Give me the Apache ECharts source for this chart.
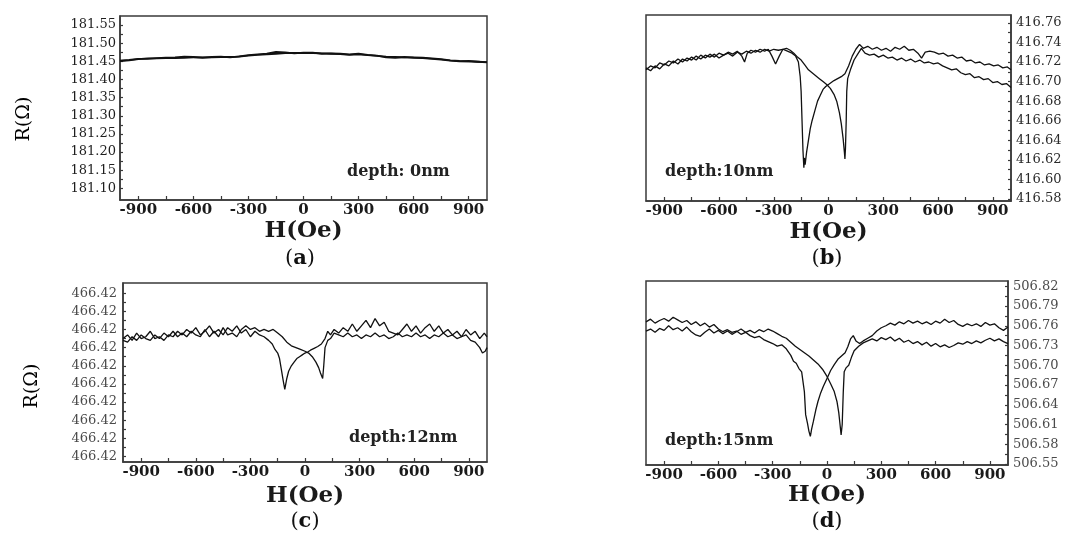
<!DOCTYPE html>
<html>
<head>
<meta charset="utf-8">
<script src="https://cdn.jsdelivr.net/npm/echarts/dist/echarts.min.js"></script>
<style>
html,body{margin:0;padding:0;background:#fff;}
#chart{width:1084px;height:538px;}
</style>
</head>
<body>
<div id="chart"></div>
<script>
// ---------- tick labels ----------
const X_MAJOR = [-900, -600, -300, 0, 300, 600, 900];
const X_MINOR = [-750, -450, -150, 150, 450, 750];
const Y_TICKS_A = [181.10, 181.15, 181.20, 181.25, 181.30, 181.35, 181.40, 181.45, 181.50, 181.55];
const Y_TICKS_B = [416.58, 416.60, 416.62, 416.64, 416.66, 416.68, 416.70, 416.72, 416.74, 416.76];
const Y_TICKS_C = [466.4180, 466.4185, 466.4190, 466.4195, 466.4200, 466.4205, 466.4210, 466.4215, 466.4220, 466.4225];
const Y_TICKS_D = [506.55, 506.58, 506.61, 506.64, 506.67, 506.70, 506.73, 506.76, 506.79, 506.82];

const PANEL_TAGS = ['a', 'b', 'c', 'd'];
const DEPTH_TEXT = ['depth: 0nm', 'depth:10nm', 'depth:12nm', 'depth:15nm'];

// ---------- (a) depth 0 nm ----------
const H_A = [-1000,-950,-900,-850,-800,-750,-700,-650,-600,-550,-500,-450,-400,-350,-300,-250,-200,-150,-100,-50,0,50,100,150,200,250,300,350,400,450,500,550,600,650,700,750,800,850,900,950,1000];
const R_A1 = [181.451,181.453,181.456,181.458,181.458,181.459,181.459,181.460,181.461,181.461,181.461,181.462,181.462,181.463,181.466,181.468,181.469,181.471,181.473,181.473,181.473,181.473,181.472,181.471,181.470,181.468,181.469,181.467,181.465,181.463,181.462,181.461,181.461,181.460,181.458,181.456,181.453,181.451,181.450,181.449,181.448];
const R_A2 = [181.452,181.454,181.457,181.457,181.459,181.460,181.461,181.463,181.462,181.460,181.462,181.463,181.461,181.464,181.467,181.469,181.471,181.476,181.475,181.472,181.474,181.474,181.471,181.472,181.471,181.469,181.471,181.468,181.466,181.461,181.460,181.462,181.460,181.459,181.457,181.455,181.452,181.450,181.451,181.449,181.447];

// ---------- (b) depth 10 nm ----------
const H_B1 = [-1000,-975,-950,-925,-900,-875,-850,-825,-800,-775,-750,-725,-700,-675,-650,-625,-600,-575,-550,-525,-500,-475,-450,-425,-400,-375,-350,-325,-300,-275,-250,-225,-200,-180,-165,-155,-150,-145,-140,-135,-132,-128,-120,-110,-100,-90,-75,-60,-45,-30,-15,0,15,30,50,70,90,110,130,150,170,190,215,240,265,290,315,340,365,390,415,440,465,490,510,530,555,580,605,630,655,680,705,730,755,780,805,830,855,880,905,930,955,980,1000];
const R_B1 = [416.712,416.716,416.714,416.719,416.717,416.721,416.719,416.723,416.720,416.724,416.722,416.726,416.723,416.727,416.725,416.728,416.724,416.727,416.729,416.726,416.730,416.728,416.731,416.729,416.732,416.730,416.733,416.731,416.733,416.732,416.733,416.731,416.729,416.726,416.720,416.705,416.690,416.660,416.630,416.612,416.622,416.615,416.628,416.640,416.652,416.660,416.670,416.680,416.686,416.692,416.695,416.697,416.699,416.701,416.703,416.705,416.708,416.716,416.726,416.733,416.738,416.734,416.736,416.733,416.735,416.732,416.734,416.731,416.735,416.733,416.736,416.732,416.733,416.729,416.724,416.730,416.731,416.730,416.728,416.729,416.726,416.727,416.724,416.725,416.721,416.722,416.719,416.720,416.717,416.718,416.716,416.717,416.714,416.715,416.712];
const H_B2 = [-1000,-975,-950,-925,-900,-875,-850,-825,-800,-775,-750,-725,-700,-675,-650,-625,-600,-575,-550,-525,-500,-475,-460,-445,-425,-400,-375,-350,-330,-310,-290,-270,-250,-230,-210,-190,-170,-150,-130,-110,-90,-70,-50,-30,-10,10,30,45,60,70,80,87,90,93,97,100,105,120,140,160,180,200,225,250,275,300,325,350,375,400,425,450,475,500,525,550,575,600,625,650,675,700,725,750,775,800,825,850,875,900,925,950,975,1000];
const R_B2 = [416.714,416.711,416.716,416.713,416.718,416.716,416.721,416.718,416.723,416.721,416.725,416.722,416.727,416.724,416.728,416.725,416.729,416.727,416.730,416.728,416.731,416.726,416.720,416.729,416.732,416.730,416.733,416.731,416.733,416.726,416.718,416.726,416.733,416.734,416.732,416.729,416.725,416.722,416.717,416.712,416.709,416.706,416.703,416.700,416.697,416.693,416.687,416.680,416.668,416.657,416.642,416.628,416.621,416.632,416.660,416.690,416.703,416.712,416.722,416.728,416.734,416.729,416.727,416.728,416.725,416.727,416.724,416.725,416.722,416.724,416.721,416.723,416.720,416.722,416.719,416.720,416.718,416.719,416.716,416.714,416.712,416.713,416.709,416.707,416.708,416.704,416.705,416.702,416.703,416.699,416.700,416.697,416.698,416.694];

// ---------- (c) depth 12 nm ----------
const H_C1 = [-1000,-975,-950,-925,-900,-875,-850,-825,-800,-775,-750,-725,-700,-675,-650,-625,-600,-575,-550,-525,-500,-475,-450,-425,-400,-375,-350,-325,-300,-275,-250,-225,-200,-180,-165,-150,-140,-130,-120,-111,-100,-90,-75,-60,-45,-30,-15,0,15,30,50,70,90,110,125,140,160,185,210,235,260,285,310,335,360,385,410,435,460,485,510,535,560,585,610,635,660,685,710,735,760,785,810,835,860,885,910,935,960,985,1000];
const R_C1 = [466.42125,466.42135,466.4212,466.4214,466.42125,466.4213,466.42145,466.42125,466.4213,466.4212,
466.42135,466.4213,466.42145,466.42135,466.4215,466.4214,466.42155,466.42135,466.42145,466.4216,
466.4214,466.4215,466.42135,466.42155,466.42145,466.4216,466.4214,466.4215,466.4213,466.42145,
466.42135,466.4213,466.4212,
466.4211,466.42095,466.42085,466.4207,466.4204,466.4201,466.41985,466.42015,466.42035,466.4205,466.4206,466.4207,466.42075,466.4208,466.42085,466.42088,466.42093,466.42098,466.42103,466.4211,466.42125,466.42145,466.42135,
466.4215,466.4214,466.42155,466.42145,466.42165,466.42145,466.4216,466.42175,466.42155,466.4218,
466.4216,466.4217,466.42145,466.4214,466.42135,466.4215,466.42165,466.42145,466.4216,466.4214,
466.42155,466.42165,466.42145,466.4216,466.4214,466.4215,466.42135,466.42145,466.4213,466.4215,
466.42135,466.42145,466.42125,466.4214,466.4213];
const H_C2 = [-1000,-975,-950,-925,-900,-875,-850,-825,-800,-775,-750,-725,-700,-675,-650,-625,-600,-575,-550,-525,-500,-475,-450,-425,-400,-375,-350,-325,-300,-275,-250,-225,-200,-175,-150,-125,-100,-75,-50,-25,0,20,40,60,75,85,97,103,110,125,140,160,185,210,235,260,285,310,335,360,385,410,435,460,485,510,535,560,585,610,635,660,685,710,735,760,785,810,835,860,885,910,935,960,975,990,1000];
const R_C2 = [466.4212,466.42115,466.4213,466.4212,466.42135,466.42125,466.4212,466.42135,466.42125,466.4214,
466.4213,466.42145,466.4213,466.4214,466.4213,466.42145,466.42135,466.4213,466.4215,466.4213,
466.42145,466.4213,466.42155,466.42135,466.4214,466.4213,466.4215,466.4216,466.4215,466.42155,
466.42145,466.4215,466.42145,466.4215,466.4214,466.4213,466.42115,
466.42105,466.421,466.42095,466.4209,466.42085,466.42075,466.4206,466.42045,466.4203,466.42015,466.4205,466.421,466.4212,466.42125,
466.4214,466.42135,466.4213,466.4214,466.4213,466.42135,466.42125,466.42135,466.4213,466.4214,
466.4213,466.42135,466.42125,466.4213,466.4214,466.4213,466.42135,466.4213,466.4214,466.4213,
466.42135,466.42125,466.42135,466.4213,466.4214,466.4213,466.42135,466.42125,466.4213,466.42135,
466.4212,
466.42115,466.421,466.42085,466.4209,466.421];

// ---------- (d) depth 15 nm ----------
const H_D1 = [-1000,-975,-950,-925,-900,-875,-850,-825,-800,-775,-750,-725,-700,-675,-650,-625,-600,-575,-550,-525,-500,-475,-450,-425,-400,-375,-350,-325,-300,-275,-250,-225,-200,-185,-170,-155,-140,-130,-125,-118,-108,-100,-92,-85,-75,-62,-50,-35,-20,0,20,40,60,80,100,115,130,145,160,180,200,225,250,275,300,325,350,375,400,425,450,475,500,525,550,575,600,625,650,675,700,725,750,775,800,825,850,875,900,925,950,975,1000];
const R_D1 = [506.766,506.770,506.764,506.768,506.771,506.767,506.773,506.769,506.765,506.768,
506.762,506.766,506.760,506.764,506.758,506.762,506.755,506.751,506.754,506.750,
506.752,506.747,506.750,506.745,506.742,506.744,506.739,506.736,506.733,506.729,
506.731,506.725,
506.715,506.706,506.703,506.695,506.690,506.688,506.660,506.625,506.612,506.600,
506.592,506.603,506.615,506.632,506.645,506.658,506.668,506.680,506.692,506.701,
506.709,506.714,506.719,506.728,506.740,506.745,506.737,506.733,506.737,
506.741,506.745,506.752,506.757,506.760,506.764,506.761,506.766,506.763,506.768,
506.764,506.767,506.763,506.766,506.762,506.767,506.764,506.770,506.765,506.768,
506.762,506.759,506.763,506.760,506.763,506.759,506.765,506.761,506.763,506.757,
506.753,506.758];
const H_D2 = [-1000,-975,-950,-925,-900,-875,-850,-825,-800,-775,-750,-725,-700,-675,-650,-625,-600,-575,-550,-525,-500,-475,-450,-425,-400,-375,-350,-325,-300,-275,-250,-225,-200,-175,-150,-125,-100,-75,-50,-25,0,20,40,55,65,72,78,84,90,95,105,120,135,150,175,200,225,250,275,300,325,350,375,400,425,450,475,500,525,550,575,600,625,650,675,700,725,750,775,800,825,850,875,900,925,950,975,1000];
const R_D2 = [506.752,506.755,506.750,506.756,506.753,506.760,506.754,506.757,506.752,506.758,
506.751,506.746,506.744,506.750,506.755,506.749,506.753,506.748,506.752,506.747,
506.751,506.755,506.750,506.753,506.749,506.754,506.751,506.755,506.752,506.748,
506.744,506.741,506.735,506.729,506.724,506.719,506.714,506.708,506.702,506.694,
506.683,
506.672,506.660,506.645,506.628,506.610,506.594,506.610,506.660,506.690,506.696,506.700,506.712,506.722,506.729,
506.734,506.737,506.740,506.737,506.742,506.739,506.743,506.737,506.741,506.735,
506.738,506.733,506.736,506.731,506.735,506.729,506.733,506.728,506.731,506.727,
506.730,506.734,506.732,506.736,506.733,506.737,506.734,506.738,506.741,506.737,
506.740,506.736,506.733];

// ---------- layout / style ----------
const SERIF = '"DejaVu Serif", "Liberation Serif", serif';
const INK = '#1a1a1a';
const FRAME = '#3a3a3a';

const panels = [
  { grid: {left: 120, top: 16, width: 367, height: 184}, ymin: 181.068, ymax: 181.575, ticks: Y_TICKS_A,
    pos: 'left', labelColor: '#1e1e1e', labelMargin: 4, nameGap: 20,
    curves: [[H_A, R_A1], [H_A, R_A2]] },
  { grid: {left: 646, top: 15, width: 365, height: 186}, ymin: 416.578, ymax: 416.768, ticks: Y_TICKS_B,
    pos: 'right', labelColor: '#2a2a2a', labelMargin: 5, nameGap: 20,
    curves: [[H_B1, R_B1], [H_B2, R_B2]] },
  { grid: {left: 123, top: 283, width: 364, height: 179}, ymin: 466.41785, ymax: 466.42278, ticks: Y_TICKS_C,
    pos: 'left', labelColor: '#4a4a4a', labelMargin: 6, nameGap: 23,
    curves: [[H_C1, R_C1], [H_C2, R_C2]] },
  { grid: {left: 646, top: 281, width: 362, height: 184}, ymin: 506.5485, ymax: 506.828, ticks: Y_TICKS_D,
    pos: 'right', labelColor: '#4a4a4a', labelMargin: 5, nameGap: 19,
    curves: [[H_D1, R_D1], [H_D2, R_D2]] }
];

function midpoints(arr) {
  const out = [];
  for (let i = 0; i < arr.length - 1; i++) out.push((arr[i] + arr[i + 1]) / 2);
  return out;
}

const grids = panels.map(p => Object.assign({
  show: true, borderColor: FRAME, borderWidth: 1.5, backgroundColor: 'transparent', containLabel: false
}, p.grid));

const xAxes = panels.map((p, i) => ({
  gridIndex: i, type: 'value', min: -1000, max: 1000,
  axisLine: {show: true, onZero: false, lineStyle: {color: FRAME, width: 1.5}},
  axisTick: {show: true, inside: true, length: 4, customValues: X_MAJOR.concat(X_MINOR), lineStyle: {color: FRAME, width: 1.2}},
  axisLabel: {customValues: X_MAJOR, fontFamily: SERIF, fontSize: 15, fontWeight: 'bold', color: INK, margin: 3},
  splitLine: {show: false},
  name: 'H(Oe)', nameLocation: 'middle', nameGap: p.nameGap,
  nameTextStyle: {fontFamily: SERIF, fontSize: 23, fontWeight: 'bold', color: INK}
}));

const yAxes = panels.map((p, i) => ({
  gridIndex: i, type: 'value', min: p.ymin, max: p.ymax, position: p.pos,
  axisLine: {show: true, onZero: false, lineStyle: {color: FRAME, width: 1.5}},
  axisTick: {show: true, inside: true, length: 3, customValues: p.ticks.concat(midpoints(p.ticks)), lineStyle: {color: FRAME, width: 1.2}},
  axisLabel: {customValues: p.ticks, fontFamily: SERIF, fontSize: 13, color: p.labelColor, margin: p.labelMargin,
    formatter: v => Number(v).toFixed(2)},
  splitLine: {show: false}
}));

const series = [];
panels.forEach((p, i) => {
  p.curves.forEach(([H, R]) => {
    series.push({
      type: 'line', xAxisIndex: i, yAxisIndex: i,
      data: H.map((h, k) => [h, R[k]]),
      showSymbol: false, symbol: 'none',
      lineStyle: {color: '#111', width: i === 0 ? 1.8 : 1.3},
      emphasis: {disabled: true}, silent: true
    });
  });
});

const depthPos = [[347, 172], [665, 172], [349, 438], [665, 441]];
const tagPos = [[300, 259], [827, 259], [305, 522], [827, 522]];
const rPos = [[24, 119], [32, 386]];

const graphics = [];
DEPTH_TEXT.forEach((t, i) => {
  graphics.push({type: 'text', x: depthPos[i][0], y: depthPos[i][1], silent: true,
    style: {text: t, font: 'bold 16px ' + SERIF, fill: '#222', verticalAlign: 'middle', align: 'left'}});
});
PANEL_TAGS.forEach((t, i) => {
  graphics.push({type: 'text', x: tagPos[i][0], y: tagPos[i][1], silent: true,
    style: {text: '{p|(}{b|' + t + '}{p|)}', align: 'center', verticalAlign: 'middle',
      rich: {p: {font: '21px ' + SERIF, fill: '#111'}, b: {font: 'bold 21px ' + SERIF, fill: '#111'}}}});
});
rPos.forEach(([x, y]) => {
  graphics.push({type: 'text', x: x, y: y, rotation: Math.PI / 2, silent: true,
    style: {text: 'R(Ω)', font: '19px ' + SERIF, fill: '#000', align: 'center', verticalAlign: 'middle'}});
});

const chart = echarts.init(document.getElementById('chart'), null, {renderer: 'canvas'});
chart.setOption({
  animation: false,
  backgroundColor: '#ffffff',
  grid: grids,
  xAxis: xAxes,
  yAxis: yAxes,
  series: series,
  graphic: graphics
});
</script>
</body>
</html>
